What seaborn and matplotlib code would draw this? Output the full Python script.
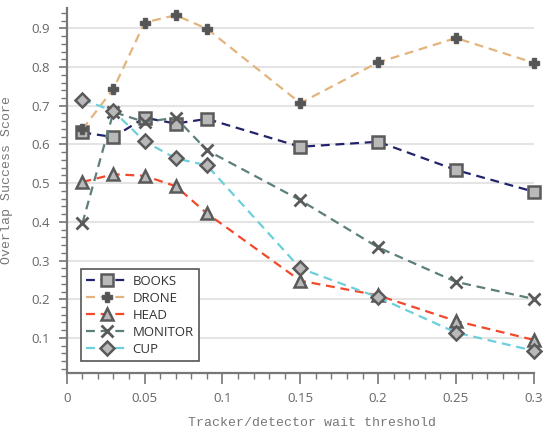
import numpy as np
import pandas as pd
import matplotlib.pyplot as plt
import seaborn as sns
from matplotlib.ticker import MultipleLocator

# wait thresholds on the x axis
thresholds = [0.01, 0.03, 0.05, 0.07, 0.09, 0.15, 0.2, 0.25, 0.3]

books = [0.631, 0.619, 0.669, 0.654, 0.666, 0.594, 0.607, 0.534, 0.478]
drone = [0.639, 0.744, 0.915, 0.934, 0.899, 0.707, 0.812, 0.875, 0.811]
head = [0.503, 0.523, 0.519, 0.492, 0.422, 0.248, 0.210, 0.144, 0.095]
monitor = [0.396, 0.684, 0.658, 0.669, 0.585, 0.456, 0.334, 0.245, 0.201]
cup = [0.716, 0.686, 0.608, 0.564, 0.546, 0.280, 0.205, 0.114, 0.067]

names = ['BOOKS', 'DRONE', 'HEAD', 'MONITOR', 'CUP']
values = [books, drone, head, monitor, cup]

# style per series
colors = {'BOOKS': '#23236b', 'DRONE': '#e3b47e', 'HEAD': '#f2492b',
          'MONITOR': '#5d7f7b', 'CUP': '#6ccfdb'}
markers = {'BOOKS': 's', 'DRONE': 'P', 'HEAD': '^', 'MONITOR': 'x', 'CUP': 'D'}
msizes = {'BOOKS': 9, 'DRONE': 6.5, 'HEAD': 8, 'MONITOR': 8.5, 'CUP': 7.5}

sns.set_style('white')
plt.rcParams['font.family'] = ['Open Sans', 'DejaVu Sans']

fig = plt.figure(figsize=(5.52, 4.32), dpi=100)
ax = fig.add_axes([0.121, 0.137, 0.846, 0.844])

df = pd.DataFrame({'threshold': thresholds})
for name, vals in zip(names, values):
    df[name] = vals

edge = '#5a5a5a'
for name in names:
    m = markers[name]
    face = '#555555' if name == 'DRONE' else '#b9b9b9'
    kw = dict(marker=m, markersize=msizes[name], markerfacecolor=face,
              markeredgecolor=edge, markeredgewidth=1.8 if m != 'x' else 2.0)
    if name == 'DRONE':
        kw['markeredgewidth'] = 1.0
    sns.lineplot(data=df, x='threshold', y=name, ax=ax, color=colors[name],
                 label=name, linewidth=1.6, dashes=False, clip_on=False,
                 **kw)
    ax.lines[-1].set_dashes((4, 2.6))

ax.set_xlim(0, 0.3)
ax.set_ylim(0.01, 0.952)
ax.xaxis.set_minor_locator(MultipleLocator(0.01))
ax.yaxis.set_minor_locator(MultipleLocator(0.02))
ax.set_xticks([0, 0.05, 0.1, 0.15, 0.2, 0.25, 0.3])
ax.set_xticklabels(['0', '0.05', '0.1', '0.15', '0.2', '0.25', '0.3'])
ax.set_yticks([0.1, 0.2, 0.3, 0.4, 0.5, 0.6, 0.7, 0.8, 0.9])
ax.set_yticklabels(['0.1', '0.2', '0.3', '0.4', '0.5', '0.6', '0.7', '0.8', '0.9'])

ax.grid(axis='y', which='major', color='#e4e4e4', linewidth=1.5)
ax.grid(axis='x', visible=False)
ax.set_axisbelow(True)
for s in ['top', 'right']:
    ax.spines[s].set_visible(False)
for s in ['left', 'bottom']:
    ax.spines[s].set_color('#777777')
    ax.spines[s].set_linewidth(1.6)

ax.tick_params(axis='x', which='major', direction='out', length=8, width=1.2,
               color='#777777', labelsize=9.5, labelcolor='#666666', pad=6,
               bottom=True)
ax.tick_params(axis='x', which='minor', direction='out', length=4, width=1.0,
               color='#777777', bottom=True)
ax.tick_params(axis='y', which='major', direction='out', length=6, width=1.2,
               color='#777777', labelsize=9.5, labelcolor='#666666', pad=6,
               left=True)
ax.tick_params(axis='y', which='minor', direction='out', length=4, width=1.0,
               color='#777777', left=True)

ax.set_xlabel('Tracker/detector wait threshold', family='Liberation Mono',
              fontsize=9.5, color='#777777')
ax.set_ylabel('Overlap Success Score', family='Liberation Mono',
              fontsize=9.5, color='#777777')
ax.xaxis.set_label_coords(0.525, -0.12)
ax.yaxis.set_label_coords(-0.115, 0.53)

leg = ax.legend(loc='lower left', bbox_to_anchor=(0.03, 0.033), borderaxespad=0,
                fancybox=False, framealpha=1, edgecolor='#555555', fontsize=9.5,
                handlelength=3.2, labelspacing=0.3, handletextpad=0.3,
                borderpad=0.4)
leg.get_frame().set_linewidth(1.2)
for t in leg.get_texts():
    t.set_color('#333333')

fig.savefig('out.png', dpi=100)
